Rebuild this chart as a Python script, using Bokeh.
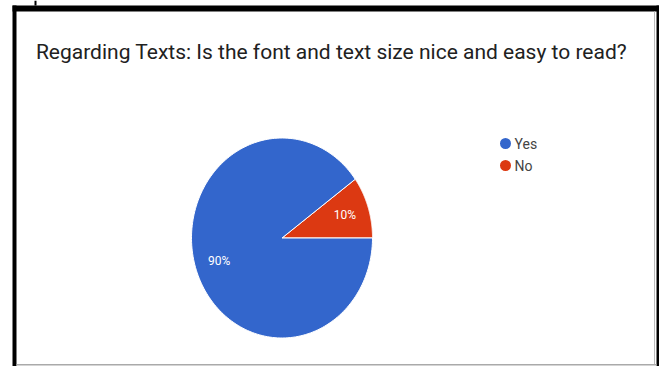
import numpy as np
from bokeh.plotting import figure
from bokeh.models import Range1d, BoxAnnotation
from bokeh.core.properties import value
from bokeh.embed import file_html
from bokeh.resources import INLINE

title = "Regarding Texts: Is the font and text size nice and easy to read?"
categories = ["Yes", "No"]
shares = [90, 10]
colors = ["#3366CC", "#DC3912"]

W, H = 659, 366
CX, CY, RX, RY = 281.5, 237.5, 90.5, 100.0

p = figure(width=W, height=H, output_backend="svg", toolbar_location=None,
           x_range=Range1d(0, W), y_range=Range1d(H, 0), min_border=0)
p.axis.visible = False
p.grid.visible = False
p.outline_line_color = None
p.background_fill_color = "white"
p.border_fill_color = "white"

# pie slices: "No" spans 0..36 deg (math angle), "Yes" the rest
total = sum(shares)
a0 = 0.0
order = ["No", "Yes"]
xs, ys, fills, lx, ly, lt = [], [], [], [], [], []
for cat in order:
    i = categories.index(cat)
    frac = shares[i] / total
    a1 = a0 + frac * 2 * np.pi
    th = np.linspace(a0, a1, 200)
    px = np.concatenate([[CX], CX + RX * np.cos(th), [CX]])
    py = np.concatenate([[CY], CY - RY * np.sin(th), [CY]])
    xs.append(list(px)); ys.append(list(py)); fills.append(colors[i])
    mid = (a0 + a1) / 2
    lx.append(CX + 0.73 * RX * np.cos(mid))
    ly.append(CY - 0.73 * RY * np.sin(mid))
    lt.append(f"{shares[i]}%")
    a0 = a1

p.patches(xs=xs, ys=ys, fill_color=fills, line_color="white", line_width=1)
p.text(x=lx, y=ly, text=lt, text_color="white", text_font=value("Roboto"),
       text_font_size="12px", text_align="center", text_baseline="middle")

# title
p.text(x=[331], y=[51], text=[title], text_font=value("Roboto"),
       text_font_size="21px", text_color="#212121", text_align="center",
       text_baseline="middle")

# legend
leg_y = [143, 165]
p.scatter(x=[505, 505], y=leg_y, size=11, fill_color=colors, line_color=None)
p.text(x=[514, 514], y=leg_y, text=categories, text_font=value("Roboto"),
       text_font_size="14px", text_color="#444444", text_baseline="middle")

# screenshot frame
for l, r, t, b, c in [(12, 659, 5, 11, "black"), (12, 16, 5, 366, "black"),
                      (656, 659, 5, 366, "black"), (653.5, 654.5, 11, 364, "#bbbbbb"),
                      (16, 656, 363.5, 365, "#aaaaaa"), (34, 36, 0, 5, "black")]:
    p.add_layout(BoxAnnotation(left=l, right=r, top=t, bottom=b, fill_color=c,
                               fill_alpha=1, line_color=None, level="overlay"))

open("out.html", "w").write(file_html(p, INLINE))
